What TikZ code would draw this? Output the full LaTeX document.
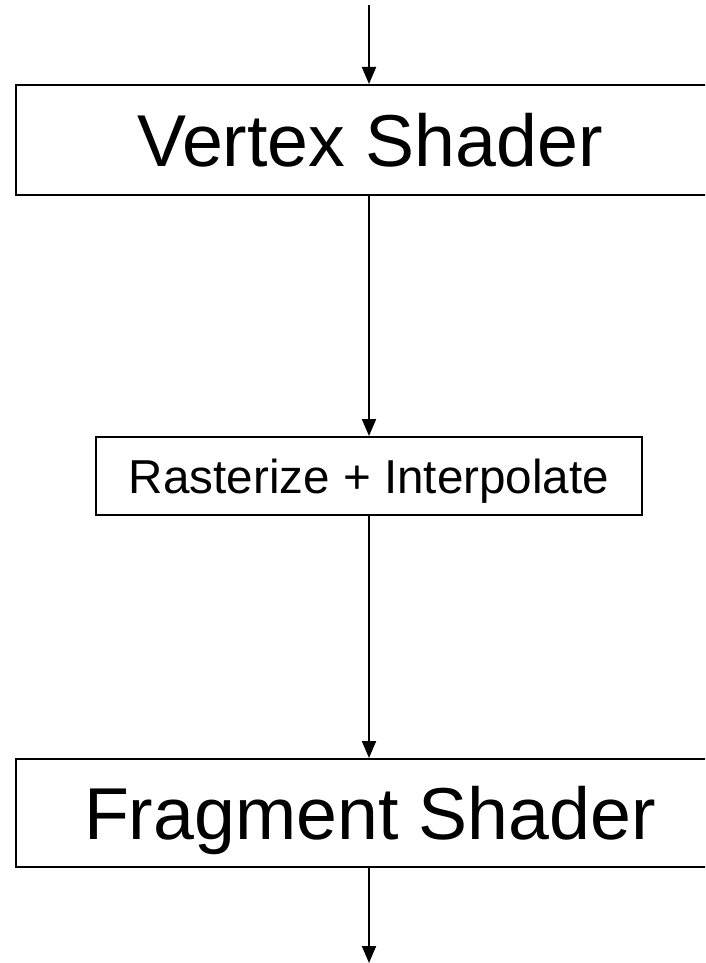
\documentclass[tikz,border=0pt]{standalone}
\usepackage{fontspec}
\setmainfont{Liberation Sans}
\usetikzlibrary{arrows.meta}
\begin{document}
\begin{tikzpicture}[x=1pt,y=-1pt,
  stagebox/.style={draw=black, line width=2pt, fill=white, inner sep=0pt},
  bigtext/.style={font=\fontsize{73.5}{80}\selectfont, text height=52.6pt, text depth=0pt},
  smalltext/.style={font=\fontsize{47.6}{52}\selectfont, text height=34pt, text depth=0pt},
  flow/.style={draw=black, line width=2pt, -{Triangle[length=17pt,width=14pt]}}]
\useasboundingbox (0,0) rectangle (705,963);
\clip (0,0) rectangle (705,963);
\node[stagebox, bigtext, minimum width=708pt, minimum height=110pt] (vs) at (370,140) {Vertex Shader};
\node[stagebox, smalltext, minimum width=546pt, minimum height=78pt] (ri) at (369,476) {Rasterize + Interpolate};
\node[stagebox, bigtext, minimum width=708pt, minimum height=108pt] (fs) at (370,813) {Fragment Shader};
\coordinate (in) at (369,5);
\coordinate (out) at (369,963);
\draw[flow] (in) -- (vs.north -| in);
\draw[flow] (vs.south -| in) -- (ri.north -| in);
\draw[flow] (ri.south -| in) -- (fs.north -| in);
\draw[flow] (fs.south -| in) -- (out);
\end{tikzpicture}
\end{document}
